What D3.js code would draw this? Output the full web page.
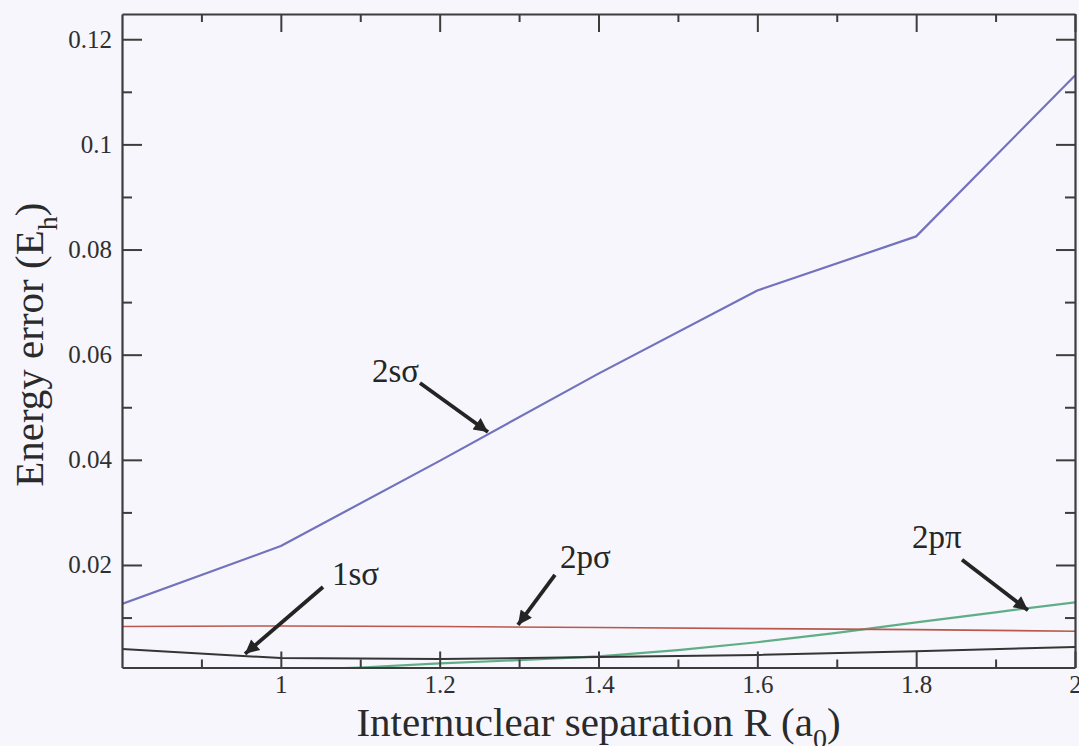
<!DOCTYPE html>
<html>
<head>
<meta charset="utf-8">
<script src="https://cdn.jsdelivr.net/npm/d3@7"></script>
<style>
  html, body { margin: 0; padding: 0; background: #f6f6fc; }
  svg { display: block; }
  text { font-family: "Liberation Serif", "DejaVu Serif", serif; }
</style>
</head>
<body>
<script>
// ---------------- data ----------------
const R_2ssigma = [0.8, 1.0, 1.2, 1.4, 1.6, 1.8, 2.0];
const E_2ssigma = [0.0126, 0.0236, 0.0398, 0.0564, 0.0722, 0.0825, 0.1131];

const R_1ssigma = [0.8, 1.0, 1.2, 1.4, 1.6, 1.8, 2.0];
const E_1ssigma = [0.0040, 0.0023, 0.0021, 0.0025, 0.0029, 0.0036, 0.0044];

const R_2psigma = [0.8, 1.0, 1.2, 1.4, 1.6, 1.8, 2.0];
const E_2psigma = [0.0083, 0.0084, 0.0083, 0.0081, 0.0079, 0.0077, 0.0074];

const R_2ppi = [0.8, 0.9, 1.0, 1.1, 1.2, 1.3, 1.4, 1.5, 1.6, 1.7, 1.8, 1.9, 2.0];
const E_2ppi = [0.0000, 0.0000, 0.0000, 0.0005, 0.0013, 0.0019, 0.0026, 0.0038, 0.0053, 0.0071, 0.0091, 0.0110, 0.0129];

const xTickValues = [1.0, 1.2, 1.4, 1.6, 1.8, 2.0];
const xTickLabels = ["1", "1.2", "1.4", "1.6", "1.8", "2"];
const xMinorTicks = [0.9, 1.1, 1.3, 1.5, 1.7, 1.9];
const yTickValues = [0.02, 0.04, 0.06, 0.08, 0.10, 0.12];
const yTickLabels = ["0.02", "0.04", "0.06", "0.08", "0.1", "0.12"];
const yMinorTicks = [0.01, 0.03, 0.05, 0.07, 0.09, 0.11];

// annotation labels: text anchor and arrow (from -> to), in data units
const annLabels = ["2sσ", "1sσ", "2pσ", "2pπ"];
const annTextR = [1.1148, 1.0644, 1.3515, 1.7947];
const annTextE = [0.0548, 0.0162, 0.0194, 0.0232];
const annFromR = [1.1752, 1.0531, 1.3452, 1.8577];
const annFromE = [0.0546, 0.0158, 0.0181, 0.0210];
const annToR   = [1.2608, 0.9549, 1.2986, 1.9408];
const annToE   = [0.0453, 0.0031, 0.0086, 0.0114];

(function () {
// ---------------- layout ----------------
const W = 1079, H = 746;
const pLeft = 122, pRight = 1075, pTop = 14, pBottom = 667.5;
const serif = '"Liberation Serif", "Times New Roman", serif';

const x = d3.scaleLinear().domain([0.8, 2.0]).range([pLeft, pRight]);
const y = d3.scaleLinear().domain([0.0005, 0.1248]).range([pBottom, pTop]);

const svg = d3.select("body").append("svg").attr("width", W).attr("height", H);
const defs = svg.append("defs");

defs.append("clipPath").attr("id", "plotclip")
  .append("rect").attr("x", pLeft).attr("y", pTop)
  .attr("width", pRight - pLeft).attr("height", pBottom - pTop);

defs.append("marker")
  .attr("id", "arrowhead").attr("viewBox", "0 0 10 10")
  .attr("refX", 10).attr("refY", 5)
  .attr("markerUnits", "userSpaceOnUse")
  .attr("markerWidth", 18).attr("markerHeight", 14)
  .attr("orient", "auto")
  .append("path").attr("d", "M0,0 L10,5 L0,10 Z").attr("fill", "#242424");

// ---------------- lines ----------------
const lineGen = d3.line().x(d => x(d[0])).y(d => y(d[1]));
const series = [
  { R: R_2ppi, E: E_2ppi, color: "#5fae86", w: 2.2 },
  { R: R_2psigma, E: E_2psigma, color: "#b9584c", w: 1.6 },
  { R: R_1ssigma, E: E_1ssigma, color: "#353535", w: 2.0 },
  { R: R_2ssigma, E: E_2ssigma, color: "#7272bd", w: 2.2 }
];
const gLines = svg.append("g").attr("clip-path", "url(#plotclip)");
series.forEach(s => {
  gLines.append("path")
    .datum(s.R.map((r, i) => [r, s.E[i]]))
    .attr("d", lineGen)
    .attr("fill", "none")
    .attr("stroke", s.color)
    .attr("stroke-width", s.w)
    .attr("stroke-linejoin", "round");
});

// ---------------- axes ----------------
const axisColor = "#3d3d3d";
function styleAxis(g, showText) {
  g.attr("font-family", serif).attr("font-size", 25);
  g.select(".domain").attr("stroke", axisColor).attr("stroke-width", 2.2);
  g.selectAll(".tick line").attr("stroke", axisColor).attr("stroke-width", 2);
  g.selectAll(".tick text")
    .attr("fill", "#2f2f2f")
    .attr("font-family", serif)
    .attr("font-size", 25)
    .style("font-size", "25px")
    .style("font-family", serif);
  if (!showText) g.selectAll(".tick text").remove();
}

// bottom
const gB = svg.append("g").attr("transform", `translate(0,${pBottom})`)
  .call(d3.axisBottom(x).tickValues(xTickValues)
    .tickFormat((d, i) => xTickLabels[i]).tickSizeInner(-16).tickSizeOuter(0).tickPadding(8));
styleAxis(gB, true);
const gBm = svg.append("g").attr("transform", `translate(0,${pBottom})`)
  .call(d3.axisBottom(x).tickValues(xMinorTicks).tickSizeInner(-8).tickSizeOuter(0).tickFormat(""));
styleAxis(gBm, false);
gBm.select(".domain").remove();

// top
const gT = svg.append("g").attr("transform", `translate(0,${pTop})`)
  .call(d3.axisTop(x).tickValues(xTickValues).tickSizeInner(-18).tickSizeOuter(0).tickFormat(""));
styleAxis(gT, false);
const gTm = svg.append("g").attr("transform", `translate(0,${pTop})`)
  .call(d3.axisTop(x).tickValues(xMinorTicks).tickSizeInner(-8).tickSizeOuter(0).tickFormat(""));
styleAxis(gTm, false);
gTm.select(".domain").remove();

// left
const gL = svg.append("g").attr("transform", `translate(${pLeft},0)`)
  .call(d3.axisLeft(y).tickValues(yTickValues)
    .tickFormat((d, i) => yTickLabels[i]).tickSizeInner(-20).tickSizeOuter(0).tickPadding(10));
styleAxis(gL, true);
const gLm = svg.append("g").attr("transform", `translate(${pLeft},0)`)
  .call(d3.axisLeft(y).tickValues(yMinorTicks).tickSizeInner(-10).tickSizeOuter(0).tickFormat(""));
styleAxis(gLm, false);
gLm.select(".domain").remove();

// right
const gR = svg.append("g").attr("transform", `translate(${pRight},0)`)
  .call(d3.axisRight(y).tickValues(yTickValues).tickSizeInner(-19).tickSizeOuter(0).tickFormat(""));
styleAxis(gR, false);
const gRm = svg.append("g").attr("transform", `translate(${pRight},0)`)
  .call(d3.axisRight(y).tickValues(yMinorTicks).tickSizeInner(-10).tickSizeOuter(0).tickFormat(""));
styleAxis(gRm, false);
gRm.select(".domain").remove();

// ---------------- titles ----------------
const xt = svg.append("text")
  .attr("x", (pLeft + pRight) / 2).attr("y", 736)
  .attr("text-anchor", "middle")
  .attr("fill", "#2a2a2a")
  .attr("font-family", serif)
  .style("font-size", "41px");
xt.append("tspan").text("Internuclear separation R (a");
xt.append("tspan").attr("dy", 12).style("font-size", "28px").text("0");
xt.append("tspan").attr("dy", -12).text(")");

const yt = svg.append("text")
  .attr("transform", `translate(43,${(pTop + pBottom) / 2 + 4}) rotate(-90)`)
  .attr("text-anchor", "middle")
  .attr("fill", "#2a2a2a")
  .attr("font-family", serif)
  .style("font-size", "41px");
yt.append("tspan").text("Energy error (E");
yt.append("tspan").attr("dy", 14).style("font-size", "28px").text("h");
yt.append("tspan").attr("dy", -14).text(")");

// ---------------- annotations ----------------
annLabels.forEach((lab, i) => {
  svg.append("line")
    .attr("x1", x(annFromR[i])).attr("y1", y(annFromE[i]))
    .attr("x2", x(annToR[i])).attr("y2", y(annToE[i]))
    .attr("stroke", "#242424").attr("stroke-width", 3.8)
    .attr("marker-end", "url(#arrowhead)");
  svg.append("text")
    .attr("x", x(annTextR[i])).attr("y", y(annTextE[i]))
    .attr("fill", "#262626")
    .attr("font-family", serif)
    .style("font-size", "33px")
    .text(lab);
});
})();
</script>
</body>
</html>
